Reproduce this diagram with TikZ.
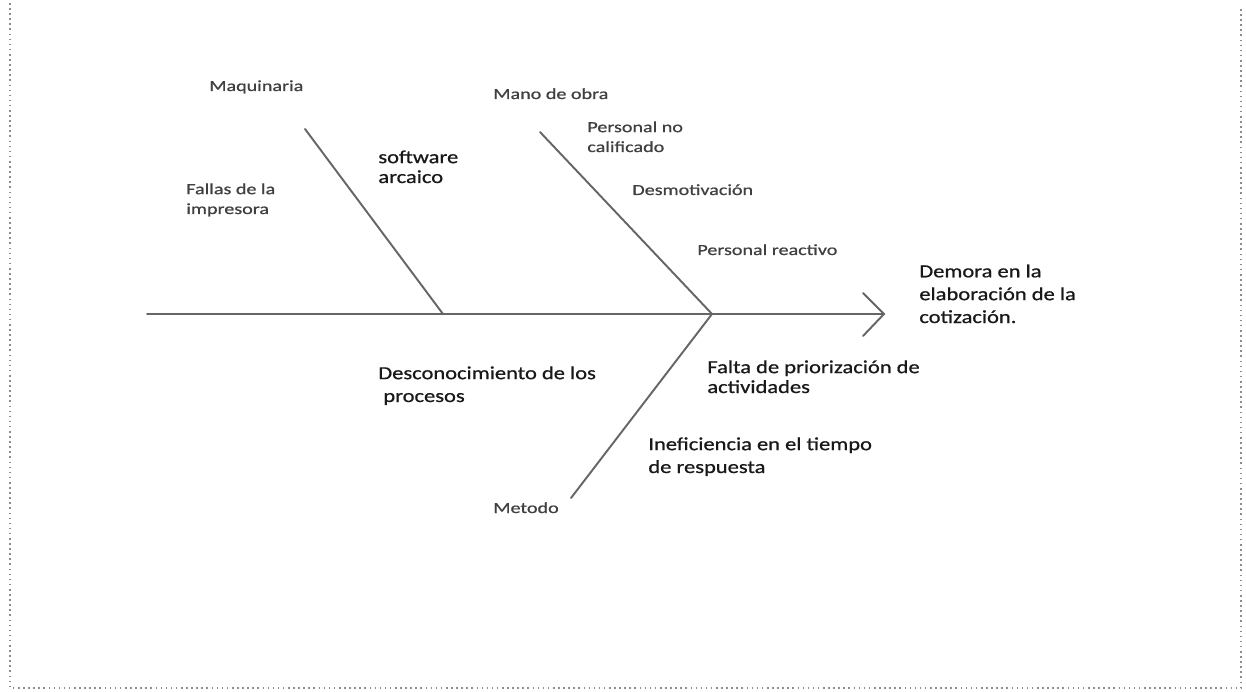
\documentclass[tikz,border=0pt]{standalone}
\usepackage{fontspec}
\setmainfont{Carlito}
\newfontfamily\labelfont{Carlito}[FakeStretch=1.3, FakeBold=0.8]
\newfontfamily\causefont{Carlito}[FakeStretch=1.22, FakeBold=0.8]

\tikzset{
  bone/.style={line width=1.1pt, draw=black!60, line cap=round},
  frame/.style={line width=0.9pt, draw=black!45, dotted},
  catlabel/.style={anchor=base west, inner sep=0pt, align=left, text=black!75,
    font=\labelfont\fontsize{8.8}{11.3}\selectfont},
  causelabel/.style={anchor=base west, inner sep=0pt, align=left, text=black!90,
    font=\causefont\fontsize{10.5}{13}\selectfont},
  tightlabel/.style={causelabel, font=\causefont\fontsize{10.5}{11.3}\selectfont}
}

\begin{document}
\begin{tikzpicture}[x=0.02cm, y=-0.02cm]

  \useasboundingbox (0,0) rectangle (1246,692);

  \coordinate (s0) at (147,314); % tail of the spine
  \coordinate (s1) at (884,314); % head of the spine
  \coordinate (h0) at (863,293); % upper barb
  \coordinate (h1) at (863,336); % lower barb

  \coordinate (m0) at (305,129); % machine bone top
  \coordinate (m1) at (443,314); % machine bone foot
  \coordinate (o0) at (540,132); % labour bone top
  \coordinate (o1) at (712,314); % joint on the spine
  \coordinate (t0) at (571,498); % method bone end

  % page frame
  \draw[frame] (10,3) -- (10,688) -- (1241,688) -- (1241,7);

  % spine
  \draw[bone] (s0) -- (s1);
  % open head
  \draw[bone] (h0) -- (s1) -- (h1);
  % machine bone
  \draw[bone] (m0) -- (m1);
  % labour and method bones
  \draw[bone] (o0) -- (o1) -- (t0);

  % categories
  \node[catlabel] (maq) at (209,91) {Maquinaria};
  \node[catlabel] (mano) at (493,99) {Mano de obra};
  \node[catlabel] (met) at (493,513) {Metodo};

  % causes (base sits on the last line)
  \node[catlabel] (fallas) at (186,214) {Fallas de la\\impresora};
  \node[tightlabel] (soft) at (378,183) {software\\arcaico};
  \node[catlabel] (pnc) at (587,152) {Personal no\\calificado};
  \node[catlabel] (desm) at (632,195) {Desmotivación};
  \node[catlabel] (preac) at (697,255) {Personal reactivo};
  \node[causelabel] (desc) at (378,402) {Desconocimiento de los\\\hspace*{0.1cm}procesos};
  \node[tightlabel] (falta) at (707,393) {Falta de priorización de\\actividades};
  \node[causelabel] (inef) at (648,473) {Ineficiencia en el tiempo\\de respuesta};

  % effect
  \node[causelabel] (efecto) at (919,323) {Demora en la\\elaboración de la\\cotización.};
\end{tikzpicture}
\end{document}
